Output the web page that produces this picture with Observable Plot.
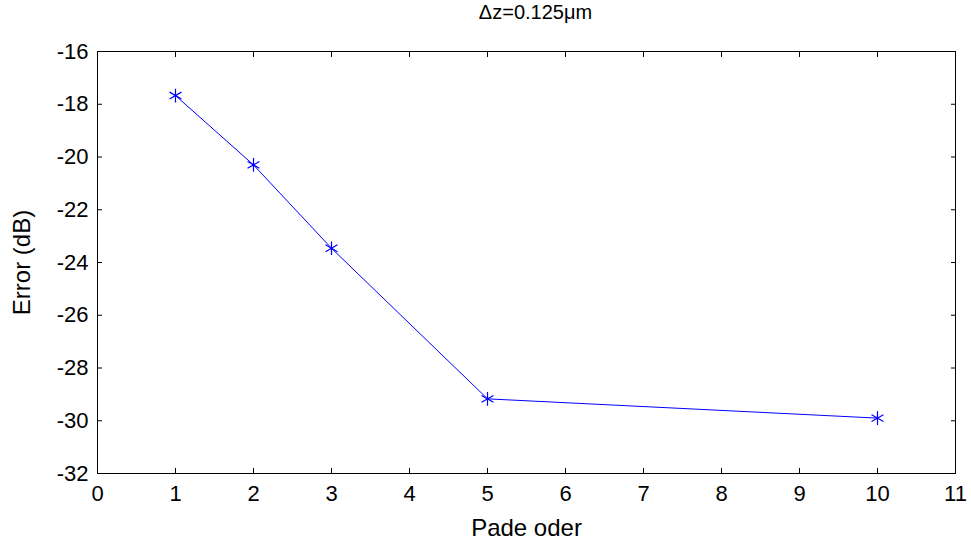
<!DOCTYPE html>
<html><head><meta charset="utf-8">
<script src="https://cdn.jsdelivr.net/npm/d3@7"></script>
<script src="https://cdn.jsdelivr.net/npm/@observablehq/plot@0.6"></script>
<style>body{margin:0;background:#fff} svg{display:block}</style>
</head><body><div id="chart"></div>
<script>
const padeOrder = [1, 2, 3, 5, 10];
const errorDb = [-17.67, -20.3, -23.46, -29.17, -29.9];
const xTicks = [0, 1, 2, 3, 4, 5, 6, 7, 8, 9, 10, 11];
const yTicks = [-32, -30, -28, -26, -24, -22, -20, -18, -16];
const titleText = "Δz=0.125μm";
const xLabel = "Pade oder";
const yLabel = "Error (dB)";

const data = padeOrder.map((x, i) => ({x, y: errorDb[i]}));
const font = "'Liberation Sans', Arial, sans-serif";
const fmt = d => String(d);

const chart = Plot.plot({
  width: 971, height: 542,
  marginLeft: 97, marginRight: 16, marginTop: 51, marginBottom: 69,
  style: {fontFamily: font, fontSize: "22px", color: "#000", background: "#fff"},
  x: {domain: [0, 11], label: null},
  y: {domain: [-32, -16], label: null},
  marks: [
    Plot.axisX(xTicks, {anchor: "bottom", tickSize: 0, tickPadding: 12, fontSize: 22, tickFormat: fmt}),
    Plot.axisX(xTicks, {anchor: "bottom", tickSize: -5, tickFormat: () => ""}),
    Plot.axisX(xTicks, {anchor: "top", tickSize: -5, tickFormat: () => ""}),
    Plot.axisY(yTicks, {anchor: "left", tickSize: 0, tickPadding: 9, fontSize: 22, tickFormat: fmt}),
    Plot.axisY(yTicks, {anchor: "left", tickSize: -5, tickFormat: () => ""}),
    Plot.axisY(yTicks, {anchor: "right", tickSize: -5, tickFormat: () => ""}),
    Plot.frame({stroke: "#000", strokeWidth: 1}),
    Plot.line(data, {x: "x", y: "y", stroke: "#0000ff", strokeWidth: 1}),
    Plot.dot(data, {x: "x", y: "y", symbol: "asterisk", r: 6.5, stroke: "#0000ff", strokeWidth: 1.2}),
    Plot.text([titleText], {text: d => d, frameAnchor: "top", textAnchor: "middle", lineAnchor: "middle", dy: -39, dx: 9, fontSize: 20}),
    Plot.text([xLabel], {text: d => d, frameAnchor: "bottom", textAnchor: "middle", lineAnchor: "middle", dy: 55, fontSize: 24}),
    Plot.text([yLabel], {text: d => d, frameAnchor: "left", textAnchor: "middle", lineAnchor: "middle", dx: -75, rotate: -90, fontSize: 24})
  ]
});
document.getElementById("chart").appendChild(chart);
</script>
</body></html>
